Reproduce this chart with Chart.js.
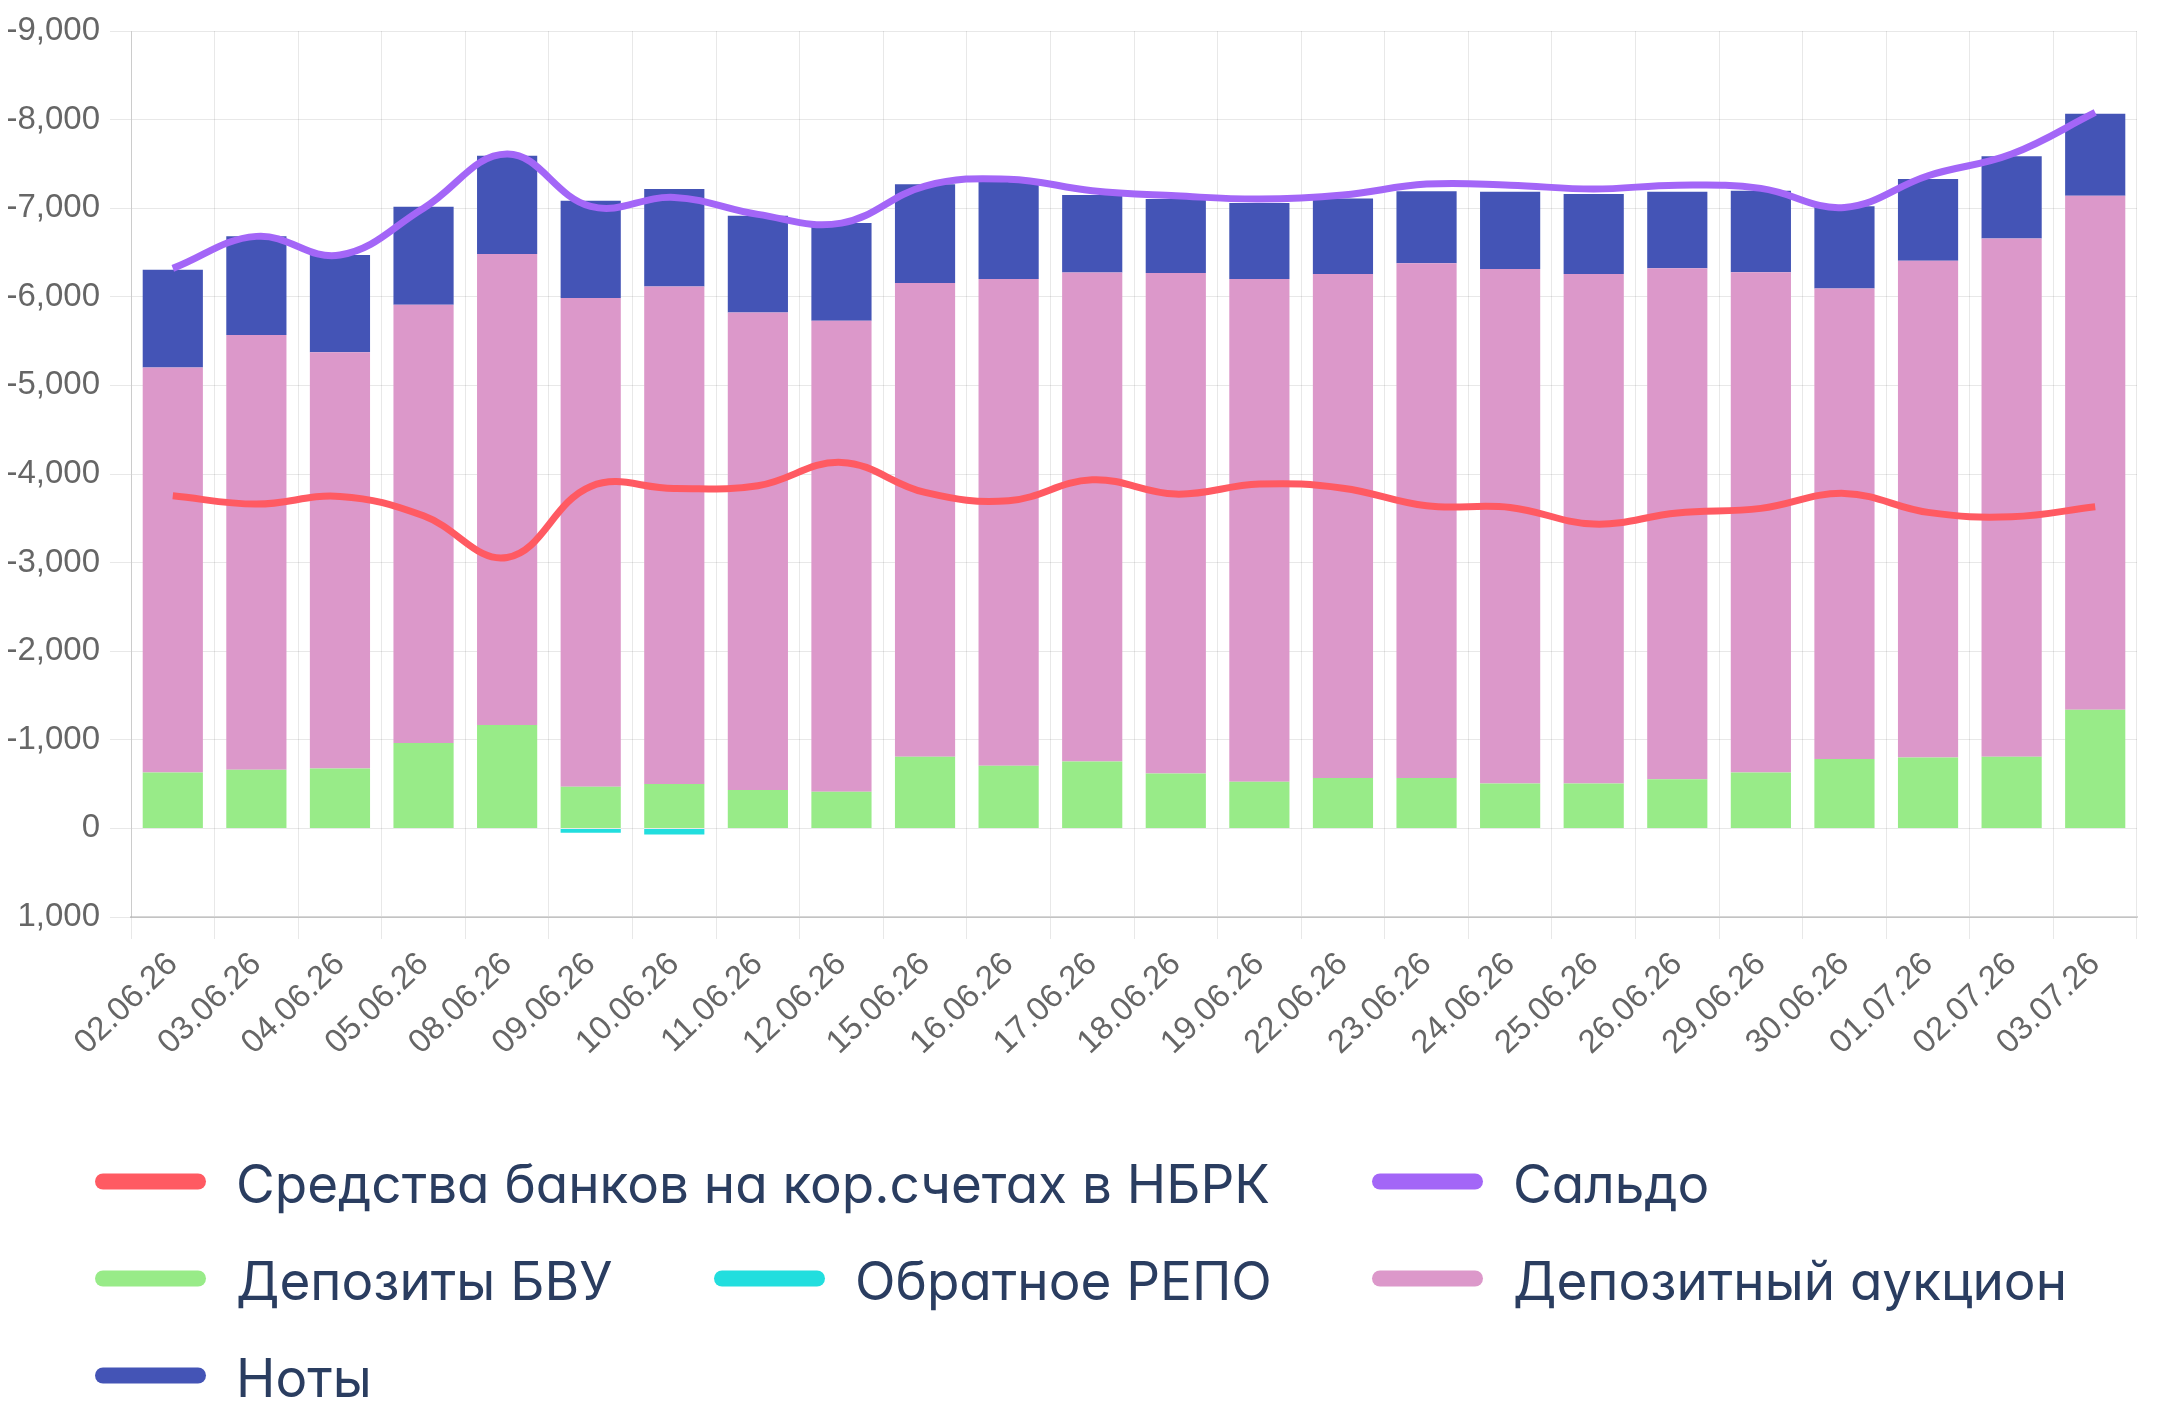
<!DOCTYPE html>
<html>
<head>
<meta charset="utf-8">
<script src="https://cdn.jsdelivr.net/npm/chart.js@4.4.1/dist/chart.umd.min.js"></script>
<style>
  html, body { margin: 0; padding: 0; background: #fff; overflow: hidden; }
  #wrap { position: relative; width: 2160px; height: 1409px; }
  #c { position: absolute; left: 0; top: 0; }
  .leg-item { position: absolute; display: flex; align-items: center; transform: translateY(-50%);
    font-family: Inter, "Noto Sans", sans-serif; font-size: 53px; line-height: 1; color: #2a3d60;
    white-space: nowrap; font-feature-settings: "cv11"; }
  .leg-item span.t { position: relative; top: 3px; }
  .leg-box { width: 111px; height: 16px; border-radius: 8px; margin-right: 30px; flex: none; }
</style>
</head>
<body>
<div id="wrap">
  <canvas id="c" width="2160" height="1409"></canvas>
  <div id="legend"></div>
</div>
<script>
// ---- data ----
const categories = ["02.06.26","03.06.26","04.06.26","05.06.26","08.06.26","09.06.26","10.06.26","11.06.26",
  "12.06.26","15.06.26","16.06.26","17.06.26","18.06.26","19.06.26","22.06.26","23.06.26","24.06.26",
  "25.06.26","26.06.26","29.06.26","30.06.26","01.07.26","02.07.26","03.07.26"];

const bankFunds = [-3754,-3660,-3747,-3528,-3058,-3860,-3837,-3867,-4131,-3792,-3698,-3935,
  -3773,-3886,-3840,-3641,-3623,-3435,-3559,-3612,-3781,-3567,-3517,-3630];

const saldo = [-6321,-6682,-6471,-7000,-7611,-7020,-7122,-6930,-6832,-7250,-7328,-7197,
  -7140,-7103,-7148,-7272,-7260,-7216,-7260,-7224,-7009,-7366,-7611,-8081];

const depositsBVU = [-632,-662,-677,-963,-1166,-470,-500,-432,-413,-809,-707,-756,
  -620,-526,-568,-568,-508,-508,-556,-632,-782,-801,-809,-1339];

const reverseRepo = [0,0,0,0,0,50,70,0,0,0,0,0,0,0,0,0,0,0,0,0,0,0,0,0];

const depositAuction = [-4571,-4906,-4696,-4947,-5316,-5516,-5617,-5392,-5317,-5346,-5493,-5519,
  -5648,-5674,-5688,-5812,-5805,-5748,-5765,-5644,-5313,-5606,-5850,-5801];

const notes = [-1102,-1114,-1098,-1106,-1110,-1098,-1099,-1091,-1102,-1114,-1098,-873,
  -835,-858,-854,-810,-873,-903,-865,-921,-926,-922,-926,-926];

const yMin = -9000, yMax = 1000, yStep = 1000;

const seriesNames = ["Средства банков на кор.счетах в НБРК","Сальдо","Депозиты БВУ","Обратное РЕПО","Депозитный аукцион","Ноты"];
const seriesColors = ["#ff5a62","#a366f7","#98eb88","#22dede","#dc98ca","#4454b6"];

// ---- chart ----
const tickFont = { family: "'Liberation Sans', Arial, sans-serif", size: 33 };
const chart = new Chart(document.getElementById('c'), {
  type: 'bar',
  data: {
    labels: categories,
    datasets: [
      { type: 'line', label: seriesNames[0], data: bankFunds, borderColor: seriesColors[0], backgroundColor: seriesColors[0],
        borderWidth: 7, pointRadius: 0, tension: 0.4, fill: false, stack: 'l1' },
      { type: 'line', label: seriesNames[1], data: saldo, borderColor: seriesColors[1], backgroundColor: seriesColors[1],
        borderWidth: 7, pointRadius: 0, tension: 0.4, fill: false, stack: 'l2' },
      { label: seriesNames[2], data: depositsBVU, backgroundColor: seriesColors[2], stack: 'bars' },
      { label: seriesNames[3], data: reverseRepo, backgroundColor: seriesColors[3], stack: 'bars' },
      { label: seriesNames[4], data: depositAuction, backgroundColor: seriesColors[4], stack: 'bars' },
      { label: seriesNames[5], data: notes, backgroundColor: seriesColors[5], stack: 'bars' }
    ]
  },
  options: {
    responsive: false,
    animation: false,
    devicePixelRatio: 1,
    layout: { padding: { left: 0, right: 23, top: 31, bottom: 0 } },
    plugins: { legend: { display: false }, tooltip: { enabled: false } },
    datasets: { bar: { categoryPercentage: 0.8, barPercentage: 0.9 } },
    scales: {
      x: {
        stacked: true,
        grid: { offset: true, tickLength: 22, color: 'rgba(0,0,0,0.09)' },
        border: { color: 'rgba(0,0,0,0.16)', width: 2 },
        ticks: { font: tickFont, color: '#666', minRotation: 44, maxRotation: 44, autoSkip: false, padding: 6 },
        afterFit(scale) { scale.height = 1409 - 917; }
      },
      y: {
        stacked: true,
        reverse: true,
        min: yMin, max: yMax,
        grid: { tickLength: 21, color: 'rgba(0,0,0,0.09)' },
        border: { color: 'rgba(0,0,0,0.12)' },
        ticks: { stepSize: yStep, font: tickFont, color: '#666', padding: 10,
          callback: v => v.toLocaleString('en-US') },
        afterFit(scale) { scale.width = 131; }
      }
    }
  }
});

// ---- HTML legend (built from the dataset definitions) ----
const legendSlots = [ [95,1181], [1372,1181], [95,1278], [714,1278], [1372,1278], [95,1375] ];
const legendEl = document.getElementById('legend');
chart.data.datasets.forEach((ds, i) => {
  const item = document.createElement('div');
  item.className = 'leg-item';
  item.style.left = legendSlots[i][0] + 'px';
  item.style.top = legendSlots[i][1] + 'px';
  const box = document.createElement('span');
  box.className = 'leg-box';
  box.style.background = ds.borderColor || ds.backgroundColor;
  const txt = document.createElement('span');
  txt.className = 't';
  txt.textContent = ds.label;
  item.appendChild(box); item.appendChild(txt);
  legendEl.appendChild(item);
});
</script>
</body>
</html>
